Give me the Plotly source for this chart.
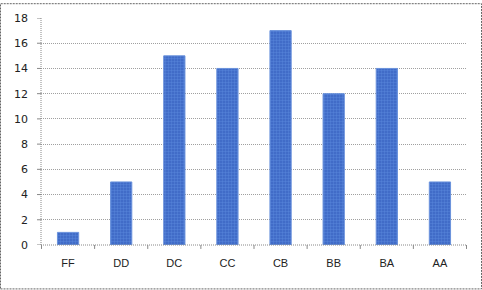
import plotly.graph_objects as go

categories = ["FF", "DD", "DC", "CC", "CB", "BB", "BA", "AA"]
values = [1, 5, 15, 14, 17, 12, 14, 5]
y_ticks = [0, 2, 4, 6, 8, 10, 12, 14, 16, 18]

W, H = 482, 290
ml, mr, mt, mb = 41, 15, 15, 45
pw, ph = W - ml - mr, H - mt - mb

fig = go.Figure(go.Bar(
    x=categories, y=values,
    marker=dict(
        color="#3a66c4",
        line=dict(color="#6a92dc", width=1),
        pattern=dict(shape=".", fgcolor="#6a98e8", size=3, solidity=0.5),
    ),
))

def px2paper_x(p):
    return (p - ml) / pw

def px2paper_y(p):
    return (H - mb - p) / ph

fig.add_shape(type="rect", xref="paper", yref="paper",
              x0=px2paper_x(0.5), x1=px2paper_x(W - 0.5),
              y0=px2paper_y(H - 0.5), y1=px2paper_y(0.5),
              line=dict(color="#666666", width=1, dash="2px,1px"), layer="above")

fig.update_layout(
    width=W, height=H,
    margin=dict(l=ml, r=mr, t=mt, b=mb),
    paper_bgcolor="white", plot_bgcolor="white",
    bargap=0.6, showlegend=False,
    font=dict(family="DejaVu Sans, Arial", size=11, color="#222222"),
    xaxis=dict(showgrid=False, showline=False,
               ticks="", ticklabelstandoff=10, fixedrange=True,
               tickfont=dict(family="Liberation Sans, Arial", size=11)),
    yaxis=dict(range=[0, 18], tickvals=y_ticks, showgrid=True,
               gridcolor="#a0a0a0", griddash="1px,1px", gridwidth=1,
               showline=False,
               ticks="", ticklabelstandoff=12, zeroline=False,
               tickfont=dict(family="DejaVu Sans", size=11)),
)

# dotted axis lines
fig.add_shape(type="line", xref="paper", yref="paper", x0=0, x1=1, y0=0, y1=0,
              line=dict(color="#888888", width=1, dash="1px,1px"))
fig.add_shape(type="line", xref="paper", yref="paper", x0=0, x1=0, y0=0, y1=1,
              line=dict(color="#888888", width=1, dash="1px,1px"))
for t in y_ticks:
    fig.add_shape(type="line", xref="paper", yref="y", x0=-4 / pw, x1=0, y0=t, y1=t,
                  line=dict(color="#888888", width=1))
for i in range(len(categories) + 1):
    fig.add_shape(type="line", xref="x", yref="paper",
                  x0=i - 0.5, x1=i - 0.5, y0=0, y1=-4 / ph,
                  line=dict(color="#888888", width=1))

fig.write_html("out.html")
